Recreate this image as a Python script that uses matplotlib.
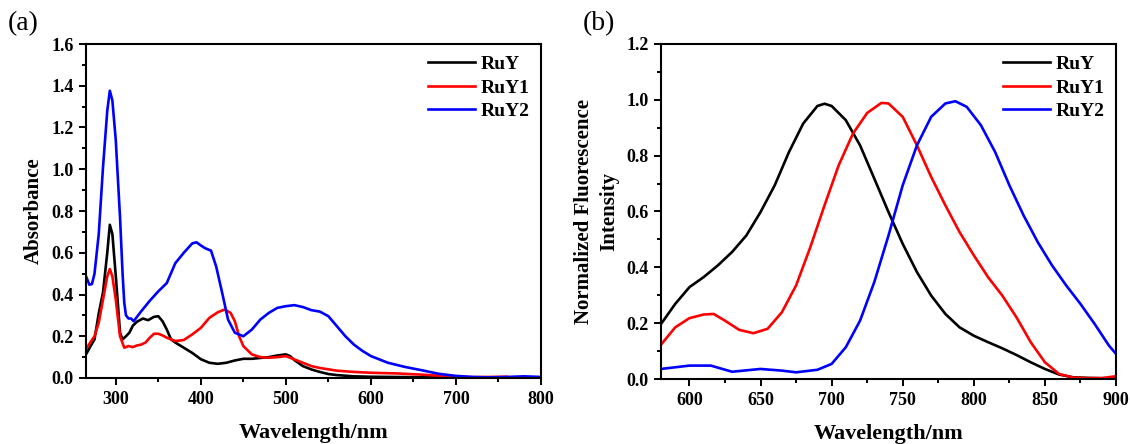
import matplotlib
matplotlib.use("Agg")
import matplotlib.pyplot as plt
from matplotlib.ticker import MultipleLocator, FormatStrFormatter

plt.rcParams['font.family'] = ['Liberation Serif', 'DejaVu Serif']

# ---------------- (a) absorbance data ----------------
abs_ruy_x = [265, 270, 275, 280, 285, 290, 293, 296, 300, 305, 308, 312, 316, 320, 325, 332, 338,
             345, 350, 355, 360, 365, 370, 380, 390, 400, 410, 420, 430, 440, 450, 460, 470, 480,
             490, 500, 505, 510, 520, 530, 540, 550, 560, 580, 600, 650, 700, 800]
abs_ruy_y = [0.113, 0.15, 0.185, 0.31, 0.41, 0.6, 0.734, 0.69, 0.49, 0.217, 0.185, 0.2, 0.217, 0.25,
             0.27, 0.285, 0.277, 0.293, 0.296, 0.272, 0.232, 0.185, 0.17, 0.145, 0.12, 0.09, 0.073,
             0.068, 0.073, 0.084, 0.092, 0.092, 0.096, 0.1, 0.108, 0.113, 0.105, 0.086, 0.057, 0.041,
             0.029, 0.019, 0.014, 0.008, 0.006, 0.004, 0.002, 0.001]

abs_ruy1_x = [265, 270, 275, 280, 285, 290, 293, 296, 300, 305, 310, 315, 320, 325, 330, 335, 340,
              345, 350, 355, 360, 370, 380, 390, 400, 410, 420, 428, 435, 440, 445, 450, 460, 470,
              480, 490, 500, 510, 520, 530, 540, 560, 580, 600, 630, 660, 700, 720, 760]
abs_ruy1_y = [0.137, 0.17, 0.2, 0.265, 0.376, 0.487, 0.522, 0.487, 0.376, 0.2, 0.145, 0.153, 0.148,
              0.156, 0.16, 0.17, 0.193, 0.212, 0.212, 0.204, 0.193, 0.177, 0.182, 0.209, 0.24, 0.288,
              0.315, 0.328, 0.312, 0.272, 0.2, 0.153, 0.113, 0.1, 0.097, 0.1, 0.105, 0.089, 0.073,
              0.057, 0.048, 0.035, 0.029, 0.025, 0.022, 0.016, 0.006, 0.004, 0.006]

abs_ruy2_x = [265, 269, 272, 275, 280, 285, 290, 293, 296, 300, 305, 308, 310, 312, 315, 318, 321,
              330, 340, 350, 360, 370, 380, 390, 395, 400, 405, 412, 418, 425, 432, 440, 450, 460,
              470, 480, 490, 500, 510, 520, 530, 540, 550, 560, 570, 580, 590, 600, 620, 640, 660,
              680, 700, 720, 740, 760, 780, 800]
abs_ruy2_y = [0.487, 0.447, 0.45, 0.5, 0.69, 1.01, 1.28, 1.376, 1.33, 1.14, 0.77, 0.5, 0.36, 0.3,
              0.285, 0.285, 0.272, 0.32, 0.37, 0.415, 0.455, 0.55, 0.6, 0.645, 0.65, 0.635, 0.622,
              0.61, 0.535, 0.41, 0.28, 0.217, 0.2, 0.232, 0.28, 0.312, 0.336, 0.344, 0.349, 0.34,
              0.325, 0.318, 0.296, 0.248, 0.2, 0.16, 0.13, 0.105, 0.073, 0.053, 0.037, 0.02, 0.01,
              0.005, 0.003, 0.005, 0.008, 0.005]

# ---------------- (b) fluorescence data ----------------
fl_ruy_x = [580, 590, 600, 610, 620, 630, 640, 650, 660, 670, 680, 690, 695, 700, 710, 720, 730,
            740, 750, 760, 770, 780, 790, 800, 810, 820, 830, 840, 850, 860, 870, 880, 890, 900]
fl_ruy_y = [0.197, 0.269, 0.329, 0.365, 0.407, 0.455, 0.514, 0.598, 0.694, 0.813, 0.915, 0.978,
            0.986, 0.978, 0.927, 0.837, 0.718, 0.598, 0.484, 0.383, 0.299, 0.233, 0.185, 0.155,
            0.132, 0.11, 0.086, 0.06, 0.036, 0.016, 0.006, 0.004, 0.003, 0.003]

fl_ruy1_x = [580, 590, 600, 610, 617, 625, 635, 645, 655, 665, 675, 685, 695, 705, 715, 725, 735,
             740, 750, 760, 770, 780, 790, 800, 810, 820, 830, 840, 850, 860, 870, 880, 890, 900]
fl_ruy1_y = [0.123, 0.185, 0.218, 0.231, 0.233, 0.209, 0.176, 0.164, 0.18, 0.239, 0.335, 0.472,
             0.622, 0.766, 0.879, 0.953, 0.989, 0.987, 0.939, 0.837, 0.724, 0.622, 0.526, 0.443,
             0.365, 0.299, 0.221, 0.132, 0.06, 0.018, 0.005, 0.003, 0.003, 0.01]

fl_ruy2_x = [580, 600, 615, 630, 650, 665, 675, 690, 700, 710, 720, 730, 740, 750, 760, 770, 780,
             787, 795, 805, 815, 825, 835, 845, 855, 865, 875, 885, 895, 900]
fl_ruy2_y = [0.036, 0.048, 0.048, 0.026, 0.036, 0.03, 0.024, 0.033, 0.054, 0.114, 0.209, 0.347,
             0.514, 0.694, 0.837, 0.939, 0.987, 0.995, 0.975, 0.909, 0.813, 0.694, 0.586, 0.49,
             0.407, 0.335, 0.269, 0.197, 0.12, 0.09]

series_names = ["RuY", "RuY1", "RuY2"]
colors = ["#000000", "#ff0000", "#0000ff"]

W, H = 1130, 444
fig = plt.figure(figsize=(W / 100, H / 100), dpi=100)

ax1 = fig.add_axes([86 / W, 1 - 378 / H, (541 - 86) / W, (378 - 44) / H])
ax2 = fig.add_axes([661 / W, 1 - 379 / H, (1116 - 661) / W, (379 - 44) / H])

for ax, data in [(ax1, [(abs_ruy_x, abs_ruy_y), (abs_ruy1_x, abs_ruy1_y), (abs_ruy2_x, abs_ruy2_y)]),
                 (ax2, [(fl_ruy_x, fl_ruy_y), (fl_ruy1_x, fl_ruy1_y), (fl_ruy2_x, fl_ruy2_y)])]:
    for (xs, ys), name, c in zip(data, series_names, colors):
        ax.plot(xs, ys, color=c, lw=1.9, label=name, solid_joinstyle='round')
    for s in ax.spines.values():
        s.set_linewidth(1.5)
    ax.tick_params(which='both', direction='out', top=False, right=False, width=1.4)
    ax.tick_params(which='major', length=5, pad=4)
    ax.tick_params(which='minor', length=3)
    ax.legend(loc='upper right', frameon=False, handlelength=2.4,
              prop=dict(family='Liberation Serif', weight='bold', size=14),
              borderaxespad=0.2, labelspacing=0.3, handletextpad=0.3)

ax1.set_xlim(265, 800)
ax1.set_ylim(0, 1.6)
ax1.xaxis.set_major_locator(MultipleLocator(100))
ax1.xaxis.set_minor_locator(MultipleLocator(50))
ax1.yaxis.set_major_locator(MultipleLocator(0.2))
ax1.yaxis.set_minor_locator(MultipleLocator(0.1))
ax1.set_xlabel("Wavelength/nm", fontsize=16, fontweight='bold', labelpad=11)
ax1.set_ylabel("Absorbance", fontsize=15, fontweight='bold', labelpad=5)

ax2.set_xlim(580, 900)
ax2.set_ylim(0, 1.2)
ax2.xaxis.set_major_locator(MultipleLocator(50))
ax2.xaxis.set_minor_locator(MultipleLocator(25))
ax2.yaxis.set_major_locator(MultipleLocator(0.2))
ax2.yaxis.set_minor_locator(MultipleLocator(0.1))
ax2.set_xlabel("Wavelength/nm", fontsize=16, fontweight='bold', labelpad=11)
ax2.set_ylabel("Normalized Fluorescence\nIntensity", fontsize=15, fontweight='bold',
               labelpad=5, linespacing=1.35)

for ax in (ax1, ax2):
    ax.yaxis.set_major_formatter(FormatStrFormatter('%.1f'))
    for lab in ax.get_xticklabels() + ax.get_yticklabels():
        lab.set_fontweight('bold')
        lab.set_fontsize(13)

fig.text(8 / W, 1 - 24 / H, "(a)", fontsize=20, va='center', ha='left')
fig.text(583 / W, 1 - 24 / H, "(b)", fontsize=20, va='center', ha='left')

fig.savefig("out.png", dpi=100)
